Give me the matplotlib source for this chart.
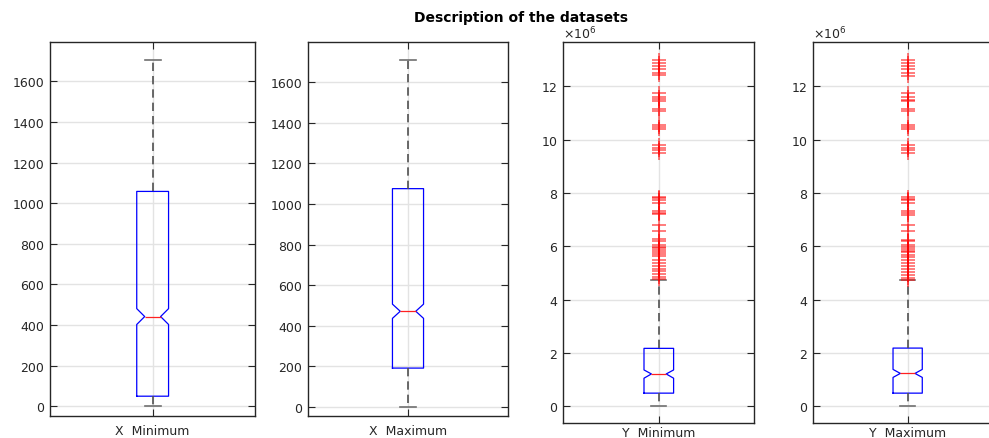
import matplotlib
matplotlib.use("Agg")
import matplotlib.pyplot as plt
from matplotlib.ticker import ScalarFormatter

plt.rcParams['font.family'] = ['DejaVu Sans']

labels = ["X  Minimum", "X  Maximum", "Y  Minimum", "Y  Maximum"]

# box statistics (y columns in raw units)
whislo = [0, 0, 0, 0]
q1 = [50, 192, 0.49e6, 0.49e6]
med = [442, 472, 1.21e6, 1.23e6]
q3 = [1058, 1076, 2.17e6, 2.18e6]
whishi = [1705, 1710, 4.72e6, 4.72e6]
cilo = [403, 437, 1.05e6, 1.08e6]
cihi = [481, 507, 1.36e6, 1.38e6]

y_min_fliers = [12.99, 12.89, 12.76, 12.64, 12.51, 12.41,
                11.74, 11.61, 11.51, 11.44, 11.16, 11.07,
                10.54, 10.49, 10.41,
                9.79, 9.70, 9.61, 9.51,
                7.86, 7.80, 7.74, 7.64, 7.34, 7.26, 7.20, 6.79, 6.57,
                6.26, 6.20, 6.05, 5.98, 5.92, 5.85, 5.78, 5.70, 5.62,
                5.50, 5.38, 5.26, 5.16, 5.06, 4.95, 4.83, 4.76]
y_max_fliers = [12.98, 12.88, 12.75, 12.63, 12.50, 12.40,
                11.73, 11.60, 11.50, 11.43, 11.15, 11.06,
                10.53, 10.47, 10.40,
                9.78, 9.69, 9.60, 9.50,
                7.85, 7.79, 7.73, 7.63, 7.33, 7.25, 7.19, 6.78, 6.56,
                6.25, 6.19, 6.04, 5.97, 5.91, 5.84, 5.77, 5.69, 5.61,
                5.49, 5.37, 5.25, 5.15, 5.05, 4.94, 4.82, 4.75]
fliers = [[], [], [v * 1e6 for v in y_min_fliers], [v * 1e6 for v in y_max_fliers]]

ylims = [(-46, 1792), (-44, 1797), (-0.63e6, 13.65e6), (-0.63e6, 13.65e6)]
yticks = [range(0, 1601, 200), range(0, 1601, 200),
          [v * 1e6 for v in range(0, 13, 2)], [v * 1e6 for v in range(0, 13, 2)]]

W, H = 989, 439
# axes boxes in pixels: left, top, right, bottom
boxes = [(50, 43.3, 255.3, 416.7), (307.7, 43.3, 508.3, 417),
         (563.3, 43.3, 754.3, 424), (813.3, 43.3, 1002, 424)]
label_pad = [6, 5.5, 2.5, 2.5]

fig = plt.figure(figsize=(W / 100, H / 100), dpi=100)
fig.text(521 / W, 1 - 18 / H, "Description of the datasets", ha='center', va='center',
         fontsize=10, fontweight='bold')

for i in range(4):
    l, t, r, b = boxes[i]
    ax = fig.add_axes([l / W, 1 - b / H, (r - l) / W, (b - t) / H])
    st = dict(med=med[i], q1=q1[i], q3=q3[i], whislo=whislo[i], whishi=whishi[i],
              cilo=cilo[i], cihi=cihi[i], fliers=fliers[i])
    ax.bxp([st], positions=[1], widths=0.155, shownotches=True,
           boxprops=dict(color='#0000ff', lw=0.9),
           medianprops=dict(color='#ff2020', lw=0.9),
           whiskerprops=dict(color='#505050', lw=1.2, linestyle=(0, (5, 3))),
           capprops=dict(color='#707070', lw=1.2),
           flierprops=dict(marker='+', markeredgecolor='red', markersize=10,
                           markeredgewidth=1.2, alpha=0.6, linestyle='none'))
    ax.set_xlim(0.5, 1.5)
    ax.set_ylim(*ylims[i])
    ax.set_yticks(list(yticks[i]))
    ax.set_xticks([1])
    ax.set_xticklabels([labels[i]])
    ax.grid(True, color='#e3e3e3', lw=1.0)
    ax.set_axisbelow(True)
    ax.tick_params(direction='in', length=5, width=0.8, right=True, top=True,
                   labelsize=9, colors='#262626', pad=4)
    ax.tick_params(axis='x', pad=label_pad[i])
    for sp in ax.spines.values():
        sp.set_linewidth(1.0)
        sp.set_color('#262626')
    if i >= 2:
        fmt = ScalarFormatter(useMathText=True)
        fmt.set_powerlimits((6, 6))
        ax.yaxis.set_major_formatter(fmt)
        ax.yaxis.get_offset_text().set_fontsize(9)
        ax.yaxis.get_offset_text().set_color('#262626')

fig.savefig("out.png", dpi=100)
